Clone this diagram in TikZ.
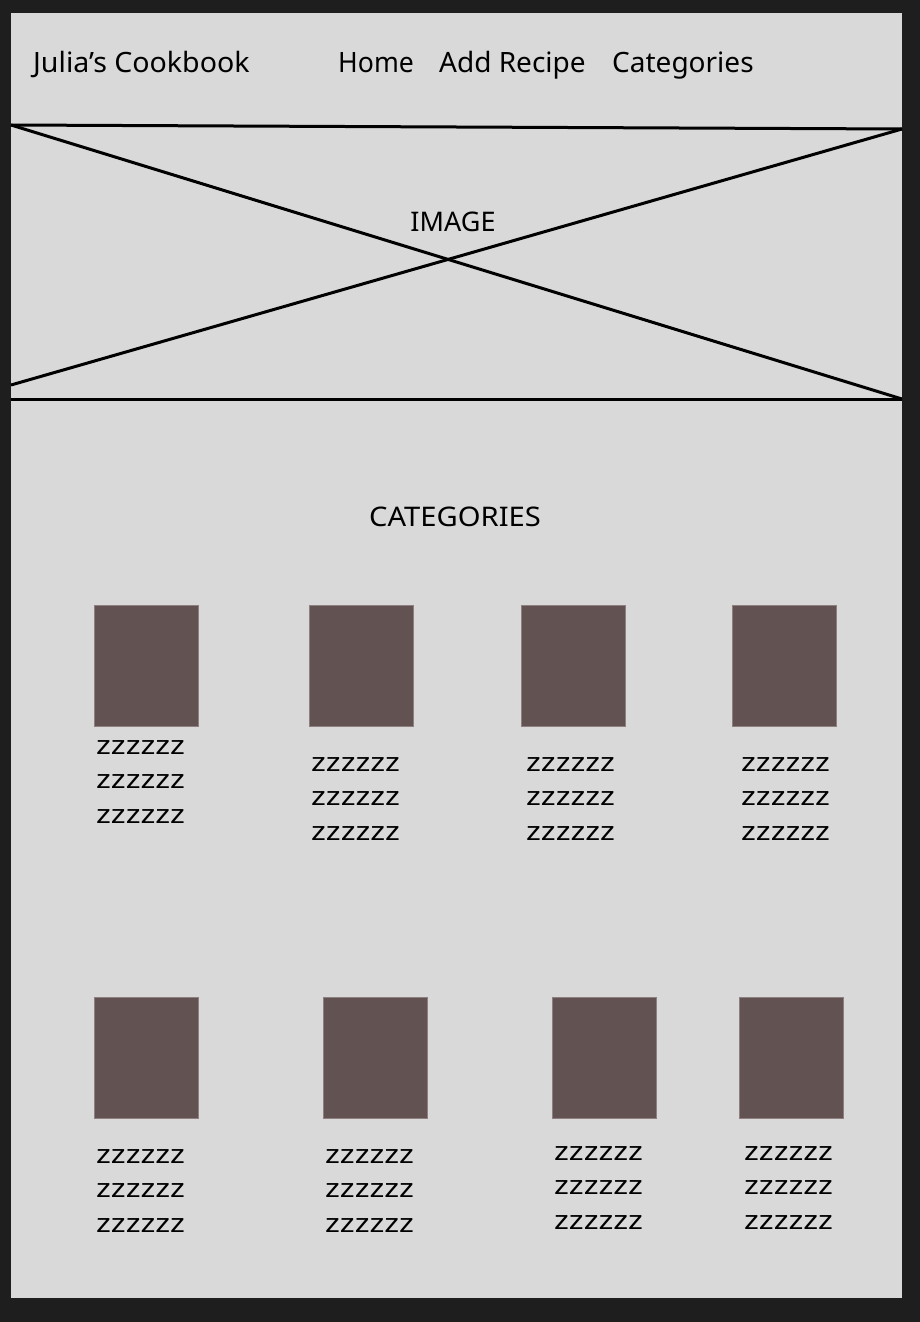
\documentclass[tikz,border=0pt]{standalone}
\usepackage{fontspec}
\setmainfont{Noto Sans}
\definecolor{frame}{HTML}{1E1E1E}
\definecolor{paper}{HTML}{D9D9D9}
\definecolor{thumb}{HTML}{625252}
\definecolor{thumbedge}{HTML}{8E8080}
\tikzset{
  head/.style={anchor=base west, inner sep=0pt, font=\fontsize{28}{32}\selectfont},
  title/.style={anchor=base, inner sep=0pt, font=\fontsize{27}{32}\selectfont},
  ztext/.style={anchor=base west, inner sep=0pt, font=\fontsize{26}{30}\selectfont},
  thumbbox/.style={fill=thumb, draw=thumbedge, line width=0.8pt},
  wire/.style={draw=black, line width=3pt}
}
\begin{document}
\begin{tikzpicture}[x=1pt,y=-1pt]
\fill[frame] (0,0) rectangle (920,1322);
\useasboundingbox (0,0) rectangle (920,1322);
\fill[paper] (11,13) rectangle (902,1298);
% header
\node[head] (brand) at (33,72) {\scalebox{1.02}[1]{Julia’s Cookbook}};
\node[head] (home) at (338,72) {\scalebox{0.95}[1]{Home}};
\node[head] (add) at (439,72) {Add Recipe};
\node[head] (cats) at (612,72) {Categories};
% image placeholder
\coordinate (tl) at (11,125);
\coordinate (tr) at (902,129);
\coordinate (bl) at (11,385);
\coordinate (br) at (902,399);
\coordinate (bbl) at (11,399);
\draw[wire] (tl) -- (tr);
\draw[wire] (bbl) -- (br);
\draw[wire] (tl) -- (br);
\draw[wire] (bl) -- (tr);
\node[title] (img) at (453,231) {IMAGE};
\node[title] (cathead) at (455,526) {\scalebox{1.08}[1]{CATEGORIES}};
% thumbnails
\foreach \i/\x/\y/\tx/\ty in {1/94/605/96/754, 2/309/605/311/771, 3/521/605/526/771, 4/732/605/741/771,
                              5/94/997/96/1163, 6/323/997/325/1163, 7/552/997/554/1160, 8/739/997/744/1160}{
  \node[thumbbox, anchor=north west, minimum width=104pt, minimum height=121pt, inner sep=0pt] (t\i) at (\x,\y) {};
  \foreach \k in {0,1,2}{
    \node[ztext] (z\i-\k) at (\tx,\ty+34.5*\k) {\scalebox{1.21}[1]{zzzzzz}};
  }
}
\end{tikzpicture}
\end{document}
